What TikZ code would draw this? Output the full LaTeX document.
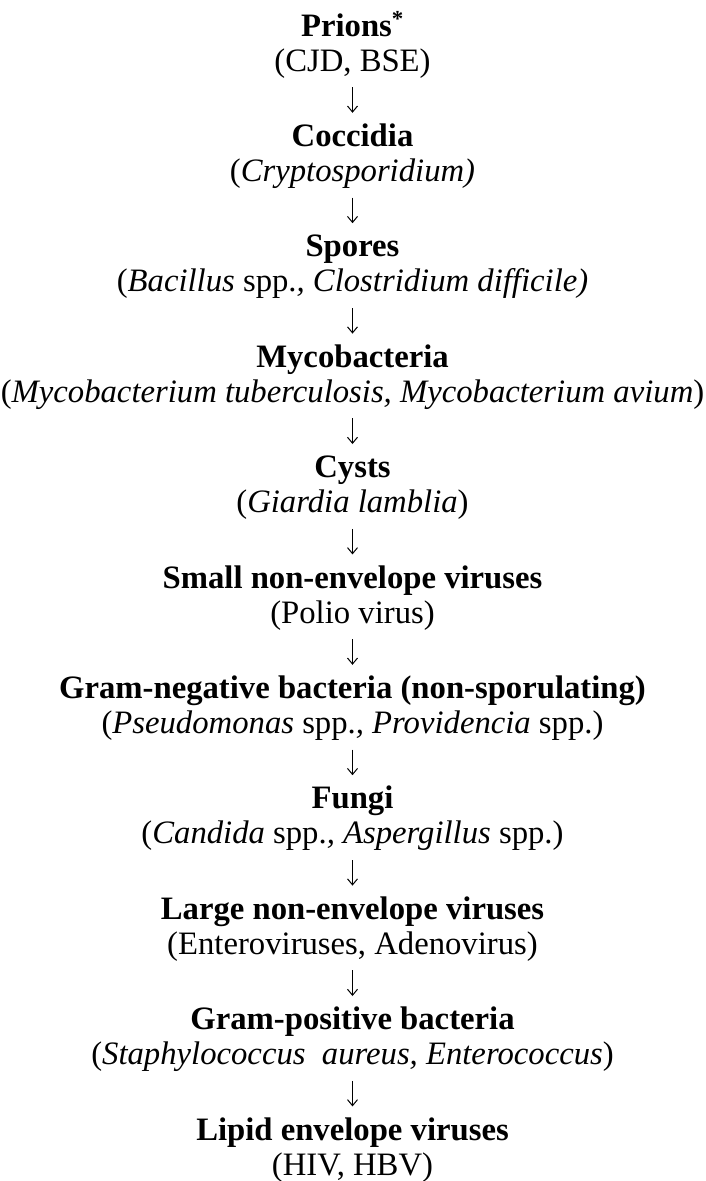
\documentclass[tikz,border=0pt]{standalone}
\usepackage{fontspec}
\setmainfont{Liberation Serif}
\usepackage{tikz}
\usetikzlibrary{arrows.meta}

\begin{document}
\begin{tikzpicture}[x=1pt,y=1pt,>={Straight Barb[length=6pt,width=10pt]},
  every node/.style={font=\fontsize{32.7}{36}\selectfont,inner sep=0pt,
    text height=23pt,text depth=8pt,anchor=base},
  ttl/.style={font=\fontsize{32.7}{36}\selectfont\bfseries},
  arr/.style={->,line width=1pt,shorten <=8pt,shorten >=10.4pt}]
\useasboundingbox (0,0) rectangle (705,-1181);
\foreach \i/\ttl/\sub in {
  0/{Prions\textsuperscript{*}}/{(CJD, BSE)},
  1/{Coccidia}/{(\textit{Cryptosporidium)}},
  2/{Spores}/{(\textit{Bacillus} spp.\textit{, Clostridium difficile)}},
  3/{Mycobacteria}/{(\textit{Mycobacterium tuberculosis, Mycobacterium avium})},
  4/{Cysts}/{(\textit{Giardia lamblia})},
  5/{Small non-envelope viruses}/{(Polio virus)},
  6/{Gram-negative bacteria (non-sporulating)}/{(\textit{Pseudomonas} spp.\textit{,} \textit{Providencia} spp.)},
  7/{Fungi}/{(\textit{Candida} spp.\textit{,} \textit{Aspergillus} spp.)},
  8/{Large non-envelope viruses}/{(Enteroviruses, Adenovirus)},
  9/{Gram-positive bacteria}/{(\textit{Staphylococcus\ \ aureus, Enterococcus})},
  10/{Lipid envelope viruses}/{(HIV, HBV)}}{
  \node[ttl] (t\i) at (352.5,-36-110.4*\i) {\ttl};
  \node (s\i) at (352.5,-71-110.4*\i) {\sub};
}
% one arrow between each pair of groups
\foreach \i [evaluate=\i as \j using int(\i+1)] in {0,...,9}
  \draw[arr] (s\i.south) -- (t\j.north);
\end{tikzpicture}
\end{document}
